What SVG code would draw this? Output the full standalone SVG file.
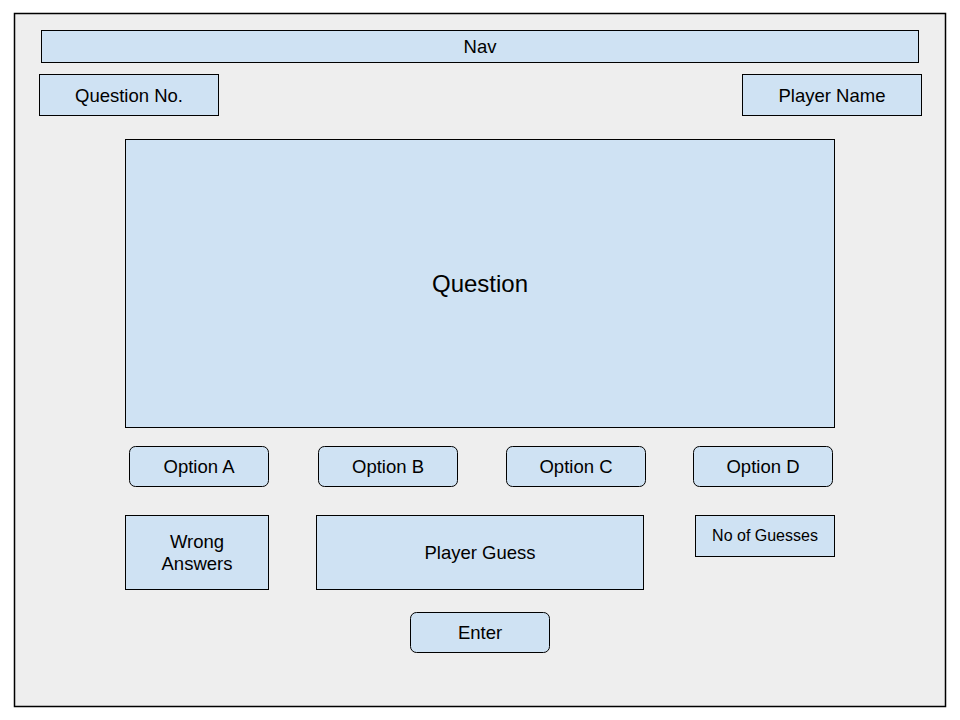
<svg xmlns="http://www.w3.org/2000/svg" width="960" height="720" viewBox="0 0 960 720">
<style>
.box{fill:#cfe2f3;stroke:#000;stroke-width:1}
.t{font-family:"Liberation Sans",Arial,sans-serif;font-size:18.5px;fill:#000;text-anchor:middle;dominant-baseline:central}
</style>
<rect width="960" height="720" fill="#fff"/>
<g id="frame"><rect x="14.5" y="13.5" width="931" height="693" fill="#eeeeee" stroke="#000" stroke-width="1.5"/></g>
<g id="nav"><rect class="box" x="41.5" y="30.5" width="877" height="32"/><text class="t" x="480" y="46">Nav</text></g>
<g id="questionNo"><rect class="box" x="39.5" y="74.5" width="179" height="41"/><text class="t" x="129" y="95">Question No.</text></g>
<g id="playerName"><rect class="box" x="742.5" y="74.5" width="179" height="41"/><text class="t" x="832" y="95">Player Name</text></g>
<g id="question"><rect class="box" x="125.5" y="139.5" width="709" height="288"/><text class="t" x="480" y="283" style="font-size:24px">Question</text></g>
<g id="optionA"><rect class="box" x="129.5" y="446.5" width="139" height="40" rx="6"/><text class="t" x="199" y="466">Option A</text></g>
<g id="optionB"><rect class="box" x="318.5" y="446.5" width="139" height="40" rx="6"/><text class="t" x="388" y="466">Option B</text></g>
<g id="optionC"><rect class="box" x="506.5" y="446.5" width="139" height="40" rx="6"/><text class="t" x="576" y="466">Option C</text></g>
<g id="optionD"><rect class="box" x="693.5" y="446.5" width="139" height="40" rx="6"/><text class="t" x="763" y="466">Option D</text></g>
<g id="wrongAnswers"><rect class="box" x="125.5" y="515.5" width="143" height="74"/><text class="t" x="197" y="541">Wrong</text><text class="t" x="197" y="563">Answers</text></g>
<g id="playerGuess"><rect class="box" x="316.5" y="515.5" width="327" height="74"/><text class="t" x="480" y="552">Player Guess</text></g>
<g id="noOfGuesses"><rect class="box" x="695.5" y="515.5" width="139" height="41"/><text class="t" x="765" y="535" style="font-size:16px">No of Guesses</text></g>
<g id="enter"><rect class="box" x="410.5" y="612.5" width="139" height="40" rx="6"/><text class="t" x="480" y="632">Enter</text></g>
<g id="connectors"></g>
</svg>
